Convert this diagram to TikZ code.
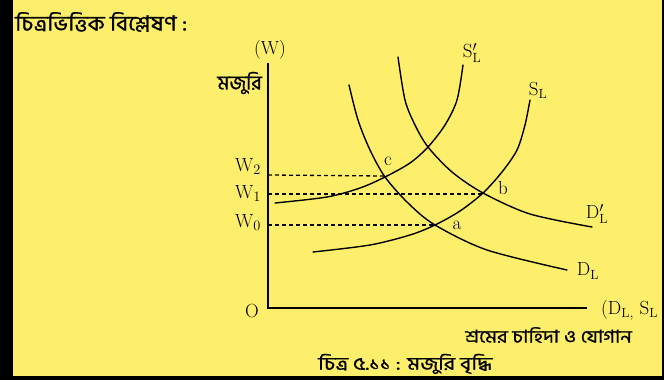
\documentclass[tikz,border=0pt]{standalone}
\usepackage{fontspec}
\usepackage{graphicx}
\newfontfamily\bn[Script=Bengali,FakeBold=0.8]{Hind Siliguri}
\definecolor{bgyellow}{HTML}{FDEE6B}
\begin{document}
\begin{tikzpicture}[x=1pt,y=-1pt,
  curve/.style={line width=1.4pt,line cap=round},
  axis/.style={line width=1.5pt},
  guide/.style={line width=1.3pt,dash pattern=on 4pt off 3pt},
  lbl/.style={inner sep=0pt,font=\fontsize{19}{21}\selectfont},
  bng/.style={inner sep=0pt}]
\useasboundingbox (0,0) rectangle (664,380);
\fill[black] (0,0) rectangle (664,380);
\fill[bgyellow] (13,0) rectangle (662,376);
\clip (13,0) rectangle (662,376);
% axes
\coordinate (O) at (268,308);
\coordinate (ytop) at (268,63);
\coordinate (xend) at (587,308);
\draw[axis] (ytop) -- (O) -- (xend);
% points
\coordinate (c) at (385,176);
\coordinate (b) at (483,194);
\coordinate (a) at (435,225);
\coordinate (w2) at (268,175);
\coordinate (w1) at (268,194);
\coordinate (w0) at (268,225);
\draw[guide] (w2) -- (c);
\draw[guide] (w1) -- (b);
\draw[guide] (w0) -- (a);
% curves
\draw[curve] plot[smooth] coordinates {(349,85) (358,120) (370,150) (385,177) (408,203) (435,225) (487,250) (567,270)};
\draw[curve] plot[smooth] coordinates {(398,57) (405,100) (415,125) (428,147) (452,172) (483,193) (530,214) (592,227)};
\draw[curve] plot[smooth] coordinates {(275,203) (327,197) (360,188) (385,177) (410,163) (428,147) (445,125) (457,100) (463,65)};
\draw[curve] plot[smooth] coordinates {(313,252) (370,245) (410,235) (435,225) (460,211) (483,193) (502,172) (517,150) (525,125) (530,100)};
% labels
\node[bng,anchor=west,font=\fontsize{21}{24}\selectfont\bn] (title) at (15,22) {\scalebox{1.1}[1]{চিত্রভিত্তিক বিশ্লেষণ :}};
\node[lbl] (W) at (270,50) {(W)};
\node[bng,anchor=east,font=\fontsize{20}{23}\selectfont\bn] (mj) at (262,83) {মজুরি};
\node[lbl,anchor=base east] (W2) at (261,171) {W$_2$};
\node[lbl,anchor=base east] (W1) at (261,198) {W$_1$};
\node[lbl,anchor=base east] (W0) at (261,227) {W$_0$};
\node[lbl] (Olbl) at (252,311) {O};
\node[lbl] (cl) at (388,161) {c};
\node[lbl] (bl) at (503,188) {b};
\node[lbl] (al) at (457,225) {a};
\node[lbl] (SLp) at (472,53) {S$_{\mathrm{L}}^{\prime}$};
\node[lbl] (SL) at (538,90) {S$_{\mathrm{L}}$};
\node[lbl] (DLp) at (597,214) {D$_{\mathrm{L}}^{\prime}$};
\node[lbl] (DL) at (588,271) {D$_{\mathrm{L}}$};
\node[lbl,anchor=west] (xl) at (601,310) {(D$_{\mathrm{L,}}$ S$_{\mathrm{L}}$};
\node[bng,anchor=west,font=\fontsize{17.5}{20}\selectfont\bn] (xb) at (465,335) {\scalebox{1.16}[1]{শ্রমের চাহিদা ও যোগান}};
\node[bng,anchor=west,font=\fontsize{18}{21}\selectfont\bn] (cap) at (318,364) {\scalebox{1.2}[1]{চিত্র ৫.১১ : মজুরি বৃদ্ধি}};
\end{tikzpicture}
\end{document}
